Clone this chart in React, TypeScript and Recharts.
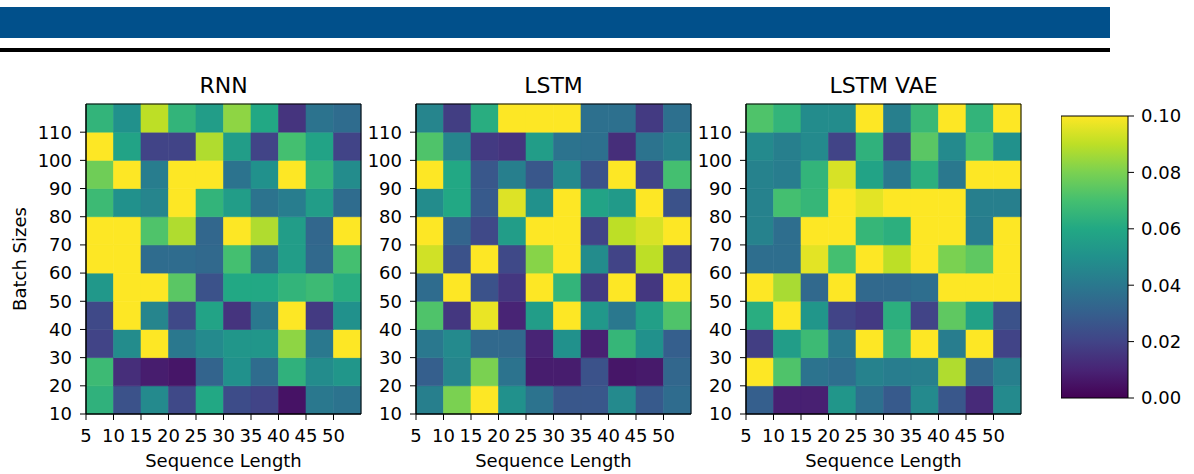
import { ScatterChart, Scatter, XAxis, YAxis, ReferenceArea } from 'recharts'

// grid axes: one column per sequence length, one row per batch size
const SEQ_LENGTHS = [5, 10, 15, 20, 25, 30, 35, 40, 45, 50]
const BATCH_SIZES = [10, 20, 30, 40, 50, 60, 70, 80, 90, 100, 110]
const CBAR_TICKS = [0, 0.02, 0.04, 0.06, 0.08, 0.1]
const VMAX = 0.1

// rows follow BATCH_SIZES (10 first), columns follow SEQ_LENGTHS
const RNN_LOSS = [
  [0.064, 0.025, 0.047, 0.022, 0.060, 0.023, 0.020, 0.005, 0.040, 0.038],
  [0.068, 0.013, 0.008, 0.006, 0.032, 0.050, 0.035, 0.064, 0.048, 0.052],
  [0.020, 0.048, 0.100, 0.040, 0.047, 0.052, 0.052, 0.083, 0.040, 0.100],
  [0.022, 0.100, 0.045, 0.022, 0.058, 0.015, 0.040, 0.100, 0.017, 0.050],
  [0.053, 0.100, 0.100, 0.074, 0.025, 0.060, 0.060, 0.065, 0.068, 0.062],
  [0.100, 0.100, 0.035, 0.035, 0.034, 0.070, 0.037, 0.055, 0.034, 0.070],
  [0.100, 0.100, 0.072, 0.088, 0.033, 0.100, 0.088, 0.055, 0.033, 0.100],
  [0.068, 0.050, 0.045, 0.100, 0.065, 0.055, 0.038, 0.042, 0.055, 0.035],
  [0.078, 0.100, 0.042, 0.100, 0.100, 0.038, 0.050, 0.100, 0.065, 0.048],
  [0.100, 0.058, 0.020, 0.020, 0.088, 0.055, 0.020, 0.070, 0.058, 0.020],
  [0.065, 0.050, 0.090, 0.065, 0.055, 0.083, 0.060, 0.015, 0.038, 0.035],
]

const LSTM_LOSS = [
  [0.043, 0.080, 0.100, 0.050, 0.038, 0.027, 0.027, 0.047, 0.028, 0.035],
  [0.030, 0.045, 0.080, 0.038, 0.008, 0.008, 0.025, 0.006, 0.007, 0.033],
  [0.040, 0.047, 0.034, 0.034, 0.010, 0.050, 0.009, 0.066, 0.050, 0.030],
  [0.072, 0.016, 0.097, 0.010, 0.055, 0.100, 0.053, 0.040, 0.056, 0.072],
  [0.035, 0.100, 0.025, 0.016, 0.100, 0.065, 0.017, 0.100, 0.016, 0.100],
  [0.093, 0.025, 0.100, 0.022, 0.082, 0.100, 0.048, 0.020, 0.090, 0.020],
  [0.100, 0.032, 0.022, 0.055, 0.100, 0.100, 0.020, 0.090, 0.094, 0.100],
  [0.048, 0.060, 0.028, 0.095, 0.050, 0.100, 0.058, 0.054, 0.100, 0.025],
  [0.100, 0.060, 0.027, 0.043, 0.027, 0.047, 0.025, 0.100, 0.020, 0.070],
  [0.072, 0.045, 0.017, 0.015, 0.055, 0.038, 0.037, 0.013, 0.038, 0.043],
  [0.045, 0.018, 0.062, 0.100, 0.100, 0.100, 0.037, 0.037, 0.017, 0.037],
]

const LSTM_VAE_LOSS = [
  [0.030, 0.009, 0.009, 0.052, 0.037, 0.028, 0.047, 0.027, 0.012, 0.047],
  [0.100, 0.072, 0.038, 0.036, 0.044, 0.042, 0.043, 0.088, 0.033, 0.043],
  [0.018, 0.055, 0.068, 0.040, 0.100, 0.068, 0.100, 0.042, 0.100, 0.020],
  [0.062, 0.100, 0.052, 0.020, 0.017, 0.063, 0.020, 0.075, 0.057, 0.025],
  [0.100, 0.087, 0.034, 0.100, 0.034, 0.034, 0.036, 0.100, 0.100, 0.100],
  [0.036, 0.036, 0.096, 0.070, 0.100, 0.090, 0.100, 0.080, 0.075, 0.100],
  [0.044, 0.036, 0.100, 0.100, 0.066, 0.063, 0.100, 0.100, 0.042, 0.100],
  [0.044, 0.070, 0.066, 0.100, 0.096, 0.100, 0.100, 0.100, 0.043, 0.043],
  [0.044, 0.042, 0.065, 0.094, 0.058, 0.040, 0.063, 0.040, 0.100, 0.100],
  [0.047, 0.043, 0.047, 0.020, 0.064, 0.020, 0.074, 0.047, 0.070, 0.050],
  [0.072, 0.065, 0.048, 0.048, 0.100, 0.043, 0.067, 0.100, 0.065, 0.100],
]

const VIRIDIS = [
  '#440154', '#482475', '#414487', '#355f8d', '#2a788e', '#21918c',
  '#22a884', '#44bf70', '#7ad151', '#bddf26', '#fde725',
]

function viridis(t: number) {
  const c = Math.min(1, Math.max(0, t))
  const p = c * (VIRIDIS.length - 1)
  const i = Math.min(Math.floor(p), VIRIDIS.length - 2)
  const f = p - i
  const a = parseInt(VIRIDIS[i].slice(1), 16)
  const b = parseInt(VIRIDIS[i + 1].slice(1), 16)
  const ch = (s: number) => Math.round(((a >> s) & 255) * (1 - f) + ((b >> s) & 255) * f)
  return `rgb(${ch(16)},${ch(8)},${ch(0)})`
}

const FONT = '"DejaVu Sans", sans-serif'
const TICK = { fill: '#000', fontSize: 18, fontFamily: FONT }

const SEQ_STEP = SEQ_LENGTHS[1] - SEQ_LENGTHS[0]
const BATCH_STEP = BATCH_SIZES[1] - BATCH_SIZES[0]
const X_DOMAIN = [SEQ_LENGTHS[0], SEQ_LENGTHS[SEQ_LENGTHS.length - 1] + SEQ_STEP]
const Y_DOMAIN = [BATCH_SIZES[0], BATCH_SIZES[BATCH_SIZES.length - 1] + BATCH_STEP]

const PLOT_W = 275
const PLOT_H = 310
const PLOT_TOP = 104
const Y_AXIS_W = 50
const X_AXIS_H = 40
const PANEL_LEFT = [86, 416, 746]

function Heatmap({ values, left }: { values: number[][]; left: number }) {
  const cells: { seq: number; batch: number; v: number }[] = []
  values.forEach((row, r) =>
    row.forEach((v, c) => cells.push({ seq: SEQ_LENGTHS[c], batch: BATCH_SIZES[r], v })),
  )

  return (
    <div style={{ position: 'absolute', left: left - Y_AXIS_W, top: PLOT_TOP - 10 }}>
      <ScatterChart
        width={Y_AXIS_W + PLOT_W + 6}
        height={10 + PLOT_H + X_AXIS_H}
        margin={{ top: 10, right: 6, left: 0, bottom: 0 }}
      >
        <XAxis
          type="number"
          dataKey="seq"
          domain={X_DOMAIN}
          ticks={SEQ_LENGTHS}
          interval={0}
          height={X_AXIS_H}
          tick={TICK}
          tickSize={6}
          tickMargin={9}
          axisLine={{ stroke: '#000' }}
          tickLine={{ stroke: '#000' }}
          allowDataOverflow
        />
        <YAxis
          type="number"
          dataKey="batch"
          domain={Y_DOMAIN}
          ticks={BATCH_SIZES}
          interval={0}
          width={Y_AXIS_W}
          tick={TICK}
          tickSize={6}
          tickMargin={8}
          axisLine={{ stroke: '#000' }}
          tickLine={{ stroke: '#000' }}
          allowDataOverflow
        />
        {cells.map((c) => {
          const color = viridis(c.v / VMAX)
          return (
            <ReferenceArea
              key={`${c.seq}-${c.batch}`}
              x1={c.seq}
              x2={c.seq + SEQ_STEP}
              y1={c.batch}
              y2={c.batch + BATCH_STEP}
              fill={color}
              fillOpacity={1}
              stroke={color}
              strokeWidth={0.6}
            />
          )
        })}
        <ReferenceArea
          x1={X_DOMAIN[0]}
          x2={X_DOMAIN[1]}
          y1={Y_DOMAIN[0]}
          y2={Y_DOMAIN[1]}
          fill="none"
          stroke="#000"
          strokeWidth={1}
        />
        <Scatter data={cells} isAnimationActive={false} shape={() => <g />} />
      </ScatterChart>
    </div>
  )
}

// colour scale: a single column spanning 0..VMAX
const CBAR_EXTENT = [
  { x: 0, y: 0 },
  { x: 1, y: VMAX },
]

function ColorBar() {
  const stops = VIRIDIS.map((c, i) => ({ offset: i / (VIRIDIS.length - 1), c }))
  return (
    <div style={{ position: 'absolute', left: 1061, top: 106 }}>
      <svg width={0} height={0} style={{ position: 'absolute' }}>
        <defs>
          <linearGradient id="viridisBar" x1="0" y1="1" x2="0" y2="0">
            {stops.map((s) => (
              <stop key={s.offset} offset={`${s.offset * 100}%`} stopColor={s.c} />
            ))}
          </linearGradient>
        </defs>
      </svg>
      <ScatterChart width={67 + 60} height={10 + 282 + 10} margin={{ top: 10, right: 0, left: 0, bottom: 10 }}>
        <XAxis type="number" dataKey="x" domain={[0, 1]} hide allowDataOverflow />
        <YAxis
          type="number"
          dataKey="y"
          orientation="right"
          domain={[0, VMAX]}
          ticks={CBAR_TICKS}
          interval={0}
          width={60}
          tick={TICK}
          tickSize={6}
          tickMargin={7}
          tickFormatter={(v: number) => v.toFixed(2)}
          axisLine={false}
          tickLine={{ stroke: '#000' }}
          allowDataOverflow
        />
        <ReferenceArea
          x1={0}
          x2={1}
          y1={0}
          y2={VMAX}
          fill="url(#viridisBar)"
          fillOpacity={1}
          stroke="#000"
          strokeWidth={1}
        />
        <Scatter data={CBAR_EXTENT} isAnimationActive={false} shape={() => <g />} />
      </ScatterChart>
    </div>
  )
}

const PANELS = [
  { title: 'RNN', values: RNN_LOSS },
  { title: 'LSTM', values: LSTM_LOSS },
  { title: 'LSTM VAE', values: LSTM_VAE_LOSS },
]

export default function App() {
  return (
    <div style={{ position: 'absolute', left: 0, top: 0, width: 1194, height: 474, background: '#fff', overflow: 'hidden' }}>
      {/* header band */}
      <div style={{ position: 'absolute', left: 0, top: 7, width: 1110, height: 31, background: '#01508b' }} />
      <div style={{ position: 'absolute', left: 0, top: 48, width: 1110, height: 4, background: '#000' }} />

      {PANELS.map((p, i) => (
        <Heatmap key={p.title} values={p.values} left={PANEL_LEFT[i]} />
      ))}
      <ColorBar />

      <svg width={1194} height={474} style={{ position: 'absolute', left: 0, top: 0, pointerEvents: 'none' }}>
        {PANELS.map((p, i) => (
          <g key={p.title} fontFamily={FONT} fill="#000">
            <text x={PANEL_LEFT[i] + PLOT_W / 2} y={93} fontSize={22} textAnchor="middle">
              {p.title}
            </text>
            <text x={PANEL_LEFT[i] + PLOT_W / 2} y={467} fontSize={18} textAnchor="middle">
              Sequence Length
            </text>
          </g>
        ))}
        <text
          transform={`translate(26, ${PLOT_TOP + PLOT_H / 2}) rotate(-90)`}
          fontFamily={FONT}
          fontSize={18}
          textAnchor="middle"
          fill="#000"
        >
          Batch Sizes
        </text>
      </svg>
    </div>
  )
}
